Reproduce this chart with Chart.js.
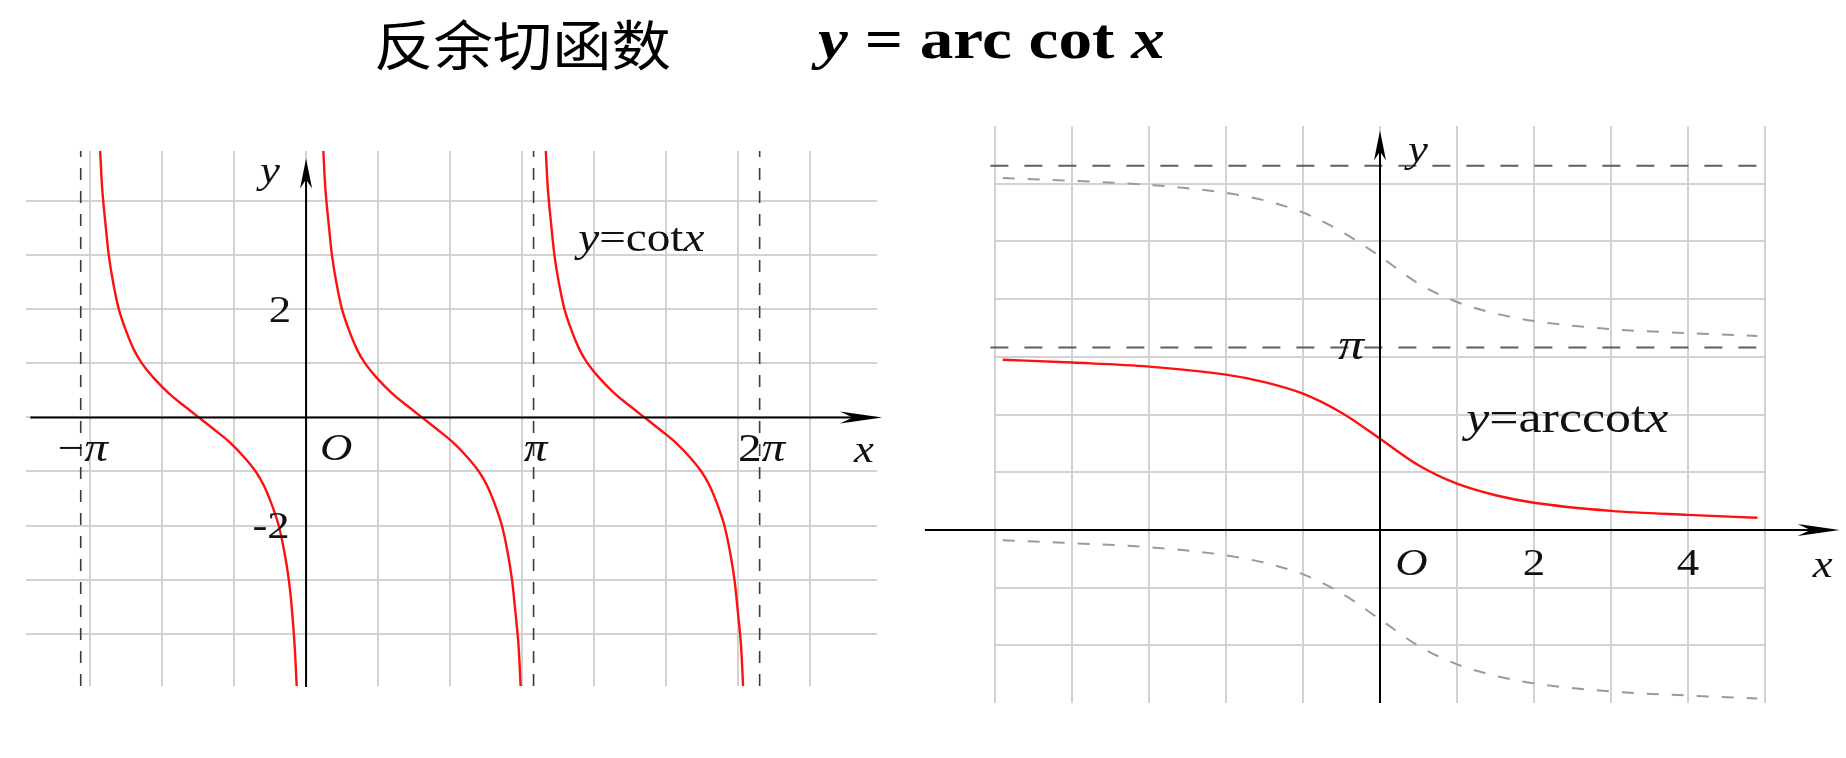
<!DOCTYPE html>
<html lang="zh">
<head>
  <meta charset="UTF-8">
  <title>反余切函数</title>
  <script src="https://cdn.jsdelivr.net/npm/chart.js"></script>
  <style>
    body {
      margin: 0;
      width: 1846px;
      height: 758px;
      overflow: hidden;
      background: #fff;
      position: relative;
    }
    .title {
      position: absolute;
      line-height: 1;
      white-space: pre;
      transform-origin: 0 0;
      color: #000;
    }
    #titleCn {
      left: 374px;
      top: 3px;
      font: 54px "Noto Sans CJK SC", sans-serif;
      transform: scaleX(1.1);
    }
    #titleEq {
      left: 818px;
      top: 7px;
      font: bold 56px "Liberation Serif", serif;
      transform: scaleX(1.2);
    }
    canvas { position: absolute; top: 100px; }
    #cotChart { left: 0; }
    #acotChart { left: 910px; }
  </style>
</head>
<body>
  <div id="titleCn" class="title">反余切函数</div>
  <div id="titleEq" class="title"><i>y</i> = arc cot <i>x</i></div>
  <canvas id="cotChart" width="910" height="658"></canvas>
  <canvas id="acotChart" width="936" height="658"></canvas>

  <script>
    // y = cot x, three branches (same y levels each)
    const cotLevels = [4.93, 4.2, 3.5, 3.0, 2.5, 2.0, 1.6, 1.25, 1.0, 0.75, 0.45, 0.22, 0,
                       -0.22, -0.45, -0.75, -1.0, -1.25, -1.6, -2.0, -2.5, -3.0, -3.5, -4.2, -4.97];
    const cotLeftX = [-2.86, -2.83, -2.78, -2.74, -2.68, -2.60, -2.50, -2.39, -2.28, -2.13, -1.91, -1.70, -1.49,
                      -1.28, -1.07, -0.85, -0.70, -0.59, -0.48, -0.38, -0.30, -0.24, -0.20, -0.16, -0.13];
    const cotMidX = [0.24, 0.27, 0.32, 0.36, 0.42, 0.50, 0.60, 0.71, 0.82, 0.97, 1.19, 1.40, 1.61,
                     1.82, 2.03, 2.25, 2.40, 2.51, 2.62, 2.72, 2.80, 2.86, 2.90, 2.95, 2.98];
    const cotRightX = [3.33, 3.36, 3.41, 3.45, 3.51, 3.59, 3.69, 3.80, 3.91, 4.06, 4.28, 4.49, 4.70,
                       4.91, 5.12, 5.34, 5.49, 5.60, 5.71, 5.81, 5.89, 5.95, 5.99, 6.04, 6.07];
    const cotAsymptotes = [-3.13, 3.16, 6.3];
    const cotGridX = [-3, -2, -1, 0, 1, 2, 3, 4, 5, 6, 7];
    const cotGridY = [-4, -3, -2, -1, 0, 1, 2, 3, 4];
    const cotTickX = [-3.13, 3.16, 6.3];
    const cotTickXText = ['−π', 'π', '2π'];
    const cotTickY = [2, -2];
    const cotTickYText = ['2', '-2'];

    // y = arccot x and the two shifted copies (dashed)
    const acotX = [-4.9, -4, -3, -2, -1.5, -1, -0.5, 0, 0.5, 1, 1.5, 2, 3, 4, 4.9];
    const acotY = [2.95, 2.9, 2.83, 2.69, 2.56, 2.36, 2.03, 1.58, 1.12, 0.8, 0.6, 0.47, 0.33, 0.26, 0.21];
    const acotUpperY = [6.1, 6.05, 5.98, 5.84, 5.71, 5.5, 5.17, 4.74, 4.27, 3.95, 3.75, 3.62, 3.48, 3.41, 3.36];
    const acotLowerY = [-0.18, -0.23, -0.3, -0.44, -0.57, -0.77, -1.1, -1.55, -2.01, -2.33, -2.53, -2.66, -2.8, -2.87, -2.92];
    const acotLevels = [3.16, 6.31];
    const acotGridX = [-5, -4, -3, -2, -1, 0, 1, 2, 3, 4, 5];
    const acotGridY = [-2, -1, 0, 1, 2, 3, 4, 5, 6];
    const acotTickX = [2, 4];
    const acotTickXText = ['2', '4'];

    const GRID = '#d2d2d2';
    const SX = 1.18;
    const pts = (xs, ys) => xs.map((x, i) => ({ x, y: ys[i] }));

    const fontOf = (p, size) => (p[1] ? 'italic ' : '') + size + 'px "Liberation Serif", "Times New Roman", serif';

    function drawRich(ctx, parts, px, py, size, align) {
      const widths = parts.map(p => { ctx.font = fontOf(p, size); return ctx.measureText(p[0]).width * SX; });
      const total = widths.reduce((a, b) => a + b, 0);
      let cx = align === 'left' ? px : px - total / 2;
      parts.forEach((p, i) => {
        ctx.font = fontOf(p, size);
        ctx.save();
        ctx.translate(cx, py);
        ctx.scale(SX, 1);
        ctx.fillText(p[0], 0, 0);
        ctx.restore();
        cx += widths[i];
      });
    }

    function arrowHead(ctx, x, y, dirX, dirY, len, half) {
      const nx = -dirY, ny = dirX;
      ctx.beginPath();
      ctx.moveTo(x, y);
      ctx.lineTo(x - dirX * len + nx * half, y - dirY * len + ny * half);
      ctx.lineTo(x - dirX * len * 0.7, y - dirY * len * 0.7);
      ctx.lineTo(x - dirX * len - nx * half, y - dirY * len - ny * half);
      ctx.closePath();
      ctx.fill();
    }

    const deco = {
      id: 'deco',
      afterDatasetsDraw(chart, args, o) {
        const { ctx } = chart;
        const sx = chart.scales.x, sy = chart.scales.y;
        const x0 = sx.getPixelForValue(0), y0 = sy.getPixelForValue(0);
        const xa = sx.getPixelForValue(o.xAxis[0]), xb = sx.getPixelForValue(o.xAxis[1]);
        const ya = sy.getPixelForValue(o.yAxis[0]), yb = sy.getPixelForValue(o.yAxis[1]);
        ctx.save();
        ctx.strokeStyle = '#000';
        ctx.fillStyle = '#000';
        ctx.lineWidth = 2;
        ctx.beginPath();
        ctx.moveTo(xa, y0); ctx.lineTo(xb - 20, y0);
        ctx.moveTo(x0, ya); ctx.lineTo(x0, yb + 14);
        ctx.stroke();
        arrowHead(ctx, xb, y0, 1, 0, 42, 6);
        arrowHead(ctx, x0, yb, 0, -1, 30, 6);
        ctx.restore();
      },
      afterDraw(chart, args, o) {
        const { ctx } = chart;
        const sx = chart.scales.x, sy = chart.scales.y;
        ctx.save();
        ctx.fillStyle = '#111';
        ctx.textBaseline = 'middle';
        ctx.textAlign = 'left';
        o.labels.forEach(l => {
          drawRich(ctx, l.parts, sx.getPixelForValue(l.x) + (l.dx || 0),
            sy.getPixelForValue(l.y) + (l.dy || 0), l.size, l.align);
        });
        ctx.restore();
      }
    };

    const gridScale = (min, max, ticks) => ({
      type: 'linear', min, max,
      afterBuildTicks: s => { s.ticks = ticks.map(v => ({ value: v })); },
      ticks: { display: false },
      grid: { color: GRID, lineWidth: 2, drawTicks: false },
      border: { display: false }
    });

    const baseOptions = {
      responsive: false,
      animation: false,
      events: [],
    };

    // ---- left: y = cot x
    const redLine = data => ({
      data, showLine: true, borderColor: '#ff1010', borderWidth: 2.4,
      pointRadius: 0, tension: 0.35
    });

    const cotYMin = -4.97, cotYMax = 4.93;
    const cotSets = cotAsymptotes.map(a => ({
      data: [{ x: a, y: cotYMin }, { x: a, y: cotYMax }],
      showLine: true, borderColor: '#3a3a3a', borderWidth: 1.6, borderDash: [12, 11], pointRadius: 0
    }));
    cotSets.push(redLine(pts(cotLeftX, cotLevels)), redLine(pts(cotMidX, cotLevels)), redLine(pts(cotRightX, cotLevels)));

    const cotLabels = [
      { parts: [['y', 1]], x: 0, y: 4.52, dx: -36, size: 38 },
      { parts: [['O', 1]], x: 0, y: 0, dx: 30, dy: 33, size: 38 },
      { parts: [['x', 1]], x: 7.75, y: 0, dy: 35, size: 38 },
      { parts: [['y', 1], ['=cot', 0], ['x', 1]], x: 3.78, y: 3.28, size: 40, align: 'left' }
    ];
    cotTickX.forEach((v, i) => {
      const t = cotTickXText[i];
      const parts = t.length > 1 ? [[t.slice(0, -1), 0], ['π', 1]] : [[t, 1]];
      cotLabels.push({ parts, x: v, y: 0, dx: 2, dy: 33, size: 40 });
    });
    cotTickY.forEach((v, i) => {
      cotLabels.push({ parts: [[cotTickYText[i], 0]], x: 0, y: v, dx: v > 0 ? -26 : -35, dy: 3, size: 38 });
    });

    new Chart(document.getElementById('cotChart'), {
      type: 'scatter',
      data: { datasets: cotSets },
      options: {
        ...baseOptions,
        layout: { padding: { left: 26, right: 33, top: 51, bottom: 72 } },
        plugins: {
          legend: { display: false },
          tooltip: { enabled: false },
          deco: { xAxis: [-3.83, 8.0], yAxis: [-4.99, 4.79], labels: cotLabels }
        },
        scales: {
          x: gridScale(-3.89, 7.93, cotGridX),
          y: gridScale(cotYMin, cotYMax, cotGridY)
        }
      },
      plugins: [deco]
    });

    // ---- right: y = arccot x
    const acotSets = acotLevels.map(v => ({
      data: [{ x: -5.06, y: v }, { x: 4.93, y: v }],
      showLine: true, borderColor: '#5e5e5e', borderWidth: 2, borderDash: [18, 16], pointRadius: 0, clip: false
    }));
    [acotUpperY, acotLowerY].forEach(ys => acotSets.push({
      data: pts(acotX, ys), showLine: true, borderColor: '#9a9a9a', borderWidth: 2,
      borderDash: [12, 13], pointRadius: 0, cubicInterpolationMode: 'monotone'
    }));
    acotSets.push({ ...redLine(pts(acotX, acotY)), tension: 0, cubicInterpolationMode: 'monotone' });

    const acotLabels = [
      { parts: [['y', 1]], x: 0, y: 6.55, dx: 38, size: 38 },
      { parts: [['π', 1]], x: 0, y: acotLevels[0], dx: -29, size: 44 },
      { parts: [['O', 1]], x: 0, y: 0, dx: 31.5, dy: 35.5, size: 38 },
      { parts: [['x', 1]], x: 5.75, y: 0, dy: 37, size: 38 },
      { parts: [['y', 1], ['=arccot', 0], ['x', 1]], x: 1.12, y: 1.9, size: 44, align: 'left' }
    ];
    acotTickX.forEach((v, i) => {
      acotLabels.push({ parts: [[acotTickXText[i], 0]], x: v, y: 0, dy: 35.5, size: 38 });
    });

    new Chart(document.getElementById('acotChart'), {
      type: 'scatter',
      data: { datasets: acotSets },
      options: {
        ...baseOptions,
        layout: { padding: { left: 85, right: 81, top: 26, bottom: 55 } },
        plugins: {
          legend: { display: false },
          tooltip: { enabled: false },
          deco: { xAxis: [-5.91, 5.97], yAxis: [-3, 6.92], labels: acotLabels }
        },
        scales: {
          x: gridScale(-5, 5, acotGridX),
          y: gridScale(-3, 7, acotGridY)
        }
      },
      plugins: [deco]
    });
  </script>
</body>
</html>
